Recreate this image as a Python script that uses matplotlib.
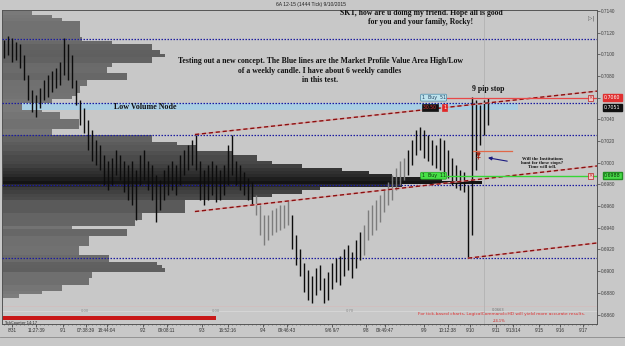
import matplotlib
matplotlib.use("Agg")
import matplotlib.pyplot as plt
import numpy as np
from matplotlib.ticker import MultipleLocator, FixedLocator, FuncFormatter

# 6A 12-15 tick chart with a weekly market profile behind it

# tick bars, one per entry (price high / low)
bar_high = [0.7113, 0.7117, 0.7115, 0.7111, 0.7109, 0.7099, 0.7081, 0.7067, 0.7062, 0.7069,
            0.7076, 0.7081, 0.7085, 0.7087, 0.7093, 0.7115, 0.7109, 0.7099, 0.7076, 0.7058,
            0.7050, 0.7039, 0.7030, 0.7021, 0.7016, 0.7007, 0.7002, 0.7004, 0.7012, 0.7007,
            0.7002, 0.6998, 0.7002, 0.6993, 0.7007, 0.7012, 0.7002, 0.6998, 0.6989, 0.6984,
            0.6993, 0.6998, 0.7002, 0.6998, 0.7007, 0.7012, 0.7016, 0.7021, 0.7026, 0.7002,
            0.6993, 0.6998, 0.7002, 0.6998, 0.6993, 0.6998, 0.7016, 0.7026, 0.7002, 0.6998,
            0.6991, 0.6986, 0.6982, 0.6970, 0.6961, 0.6952, 0.6952, 0.6956, 0.6958, 0.6961,
            0.6961, 0.6966, 0.6952, 0.6933, 0.6920, 0.6908, 0.6901, 0.6896, 0.6903, 0.6906,
            0.6894, 0.6899, 0.6908, 0.6912, 0.6914, 0.6920, 0.6924, 0.6918, 0.6929, 0.6936,
            0.6943, 0.6956, 0.6961, 0.6966, 0.6970, 0.6975, 0.6982, 0.6989, 0.6995, 0.7002,
            0.7004, 0.7012, 0.7021, 0.7030, 0.7033, 0.7030, 0.7026, 0.7021, 0.7016, 0.7023,
            0.7021, 0.7012, 0.7004, 0.6998, 0.6993, 0.6991, 0.6979, 0.7061, 0.7058, 0.7053,
            0.7058, 0.7060]
bar_low = [0.7097, 0.7099, 0.7093, 0.7095, 0.7087, 0.7076, 0.7058, 0.7047, 0.7042, 0.7050,
           0.7058, 0.7061, 0.7065, 0.7069, 0.7072, 0.7081, 0.7076, 0.7069, 0.7053, 0.7035,
           0.7027, 0.7012, 0.7002, 0.6998, 0.6993, 0.6979, 0.6975, 0.6979, 0.6989, 0.6984,
           0.6973, 0.6966, 0.6961, 0.6947, 0.6979, 0.6984, 0.6975, 0.6966, 0.6945, 0.6956,
           0.6966, 0.6970, 0.6975, 0.6970, 0.6979, 0.6989, 0.6993, 0.6998, 0.6993, 0.6966,
           0.6961, 0.6966, 0.6970, 0.6964, 0.6966, 0.6970, 0.6979, 0.6989, 0.6979, 0.6975,
           0.6970, 0.6966, 0.6961, 0.6952, 0.6933, 0.6924, 0.6929, 0.6933, 0.6936, 0.6938,
           0.6940, 0.6943, 0.6920, 0.6906, 0.6896, 0.6881, 0.6873, 0.6871, 0.6878, 0.6883,
           0.6871, 0.6873, 0.6884, 0.6890, 0.6887, 0.6896, 0.6901, 0.6894, 0.6903, 0.6910,
           0.6915, 0.6929, 0.6933, 0.6938, 0.6945, 0.6955, 0.6961, 0.6966, 0.6975, 0.6979,
           0.6984, 0.6989, 0.6998, 0.7007, 0.7012, 0.7004, 0.7002, 0.6998, 0.6995, 0.6993,
           0.6991, 0.6986, 0.6979, 0.6977, 0.6975, 0.6973, 0.6912, 0.6933, 0.6993, 0.7016,
           0.7026, 0.7035]
gray_ranges = [(63, 72), (90, 101)]   # sessions painted gray

# weekly market profile, volume per 3-pip row from 0.7138 down
profile_top = 0.7138
profile_step = 0.0003
profile_vol = [30, 50, 60, 78, 78, 78, 78, 78, 80, 110,
               150, 150, 158, 163, 150, 150, 110, 105, 105, 125,
               125, 85, 85, 78, 78, 75, 70, 50, 40, 40,
               40, 58, 58, 77, 77, 77, 50, 50, 150, 150,
               175, 195, 195, 230, 255, 255, 270, 300, 340, 367,
               390, 440, 480, 400, 318, 300, 270, 250, 183, 183,
               183, 183, 140, 140, 133, 133, 70, 125, 125, 87,
               87, 87, 77, 77, 77, 107, 107, 155, 160, 163,
               90, 90, 87, 87, 60, 60, 40, 17]

# value area high/low lines
va_levels = [0.7114, 0.7055, 0.7026, 0.6979, 0.6912]
lvn_low, lvn_high = 0.7049, 0.7055

# channel trend lines (bar, price) pairs
trend_upper = [(47.75, 0.7026), (148.25, 0.7066)]
trend_lower = [(47.75, 0.6955), (148.25, 0.6997)]
trend_third = [(116.0, 0.6912), (148.25, 0.6926)]

# orders
sell_stop_price = 0.7060
entry_price = 0.7051
buy_stop_price = 0.6988
stop_hunt_price = 0.7011

tick_pos = [2, 8, 14.75, 20.5, 25.75, 34.75, 40.75, 49.5, 56, 64.75, 70.75, 82,
            90.5, 95.25, 105, 111, 116.5, 123, 127.25, 133.75, 139, 144.75]
tick_lbl = ["8/31", "11:27:39", "9/1", "07:38:39", "18:44:04", "9/2", "09:08:11", "9/3",
            "16:52:16", "9/4", "09:46:43", "9/6 9/7", "9/8", "09:49:47", "9/9", "10:12:38",
            "9/10", "9/11", "9/13/14", "9/15", "9/16", "9/17"]
timer_fraction = 0.36

W, H = 625, 346
BG = "#c8c8c8"
fig = plt.figure(figsize=(W / 100, H / 100), dpi=100, facecolor=BG)

def px_box(x0, y0, x1, y1):
    return [x0 / W, 1 - y1 / H, (x1 - x0) / W, (y1 - y0) / H]

ax = fig.add_axes(px_box(2, 10, 597, 324))
ax.set_xlim(-0.5, 148.25)
ax.set_ylim(0.68513, 0.71408)

# profile on a twin axis so its length scale is independent
axp = ax.twiny()
axp.set_xlim(0, 595)
axp.set_zorder(0)
ax.set_zorder(1)
ax.patch.set_visible(False)
axp.axis("off")
n = len(profile_vol)
prof_price = profile_top - profile_step * np.arange(n)
vmax = max(profile_vol)
shades = [str(0.5 - 0.42 * (v / vmax) ** 1.1) for v in profile_vol]
axp.barh(prof_price, profile_vol, height=profile_step, left=0, color=shades, linewidth=0)

# value area lines and low volume node band
ax.fill_between([4.5, 128.5], lvn_low, lvn_high, color="#a9cfe4", zorder=2, linewidth=0)
for lv in va_levels:
    ax.axhline(lv, color="#1c1ca0", lw=0.9, ls=(0, (1.2, 1.2)), zorder=3)

# current bar cursor
ax.axvline(120, color="#b2b2b2", lw=0.6, zorder=2)

# tick bars
xb = np.arange(len(bar_high))
cols = []
for i in xb:
    c = "#0c0c0c"
    for a, b in gray_ranges:
        if a <= i < b:
            c = "#7c7c7c"
    cols.append(c)
ax.vlines(xb, bar_low, bar_high, colors=cols, lw=1.0, zorder=4)

# trend lines
for seg in [trend_upper, trend_lower, trend_third]:
    xs = [p[0] for p in seg]
    ys = [p[1] for p in seg]
    ax.plot(xs, ys, color="#dba2a2", lw=1.0, zorder=5)
    ax.plot(xs, ys, color="#8a1010", lw=1.0, ls=(0, (3, 2)), zorder=5)

# order lines
ax.plot([110.75, 148.25], [sell_stop_price] * 2, color="#e84848", lw=0.9, zorder=5)
ax.plot([110.75, 148.25], [buy_stop_price] * 2, color="#36d636", lw=1.0, zorder=5)
ax.plot([117.25, 127], [stop_hunt_price] * 2, color="#e06848", lw=0.9, zorder=5)
ax.plot([118.5], [stop_hunt_price - 0.0003], marker="v", ms=2.2, color="#a02818", zorder=6)
ax.plot([118.5], [stop_hunt_price - 0.0006], marker="+", ms=2.2, mew=0.6, color="#a02818", zorder=6)

ax.text(107.4, sell_stop_price, "1  Buy  51", fontsize=3.4, ha="center", va="center", color="#204060",
        bbox=dict(boxstyle="round,pad=0.2", fc="#bfe4ee", ec="#4a8aa8", lw=0.5), zorder=7)
ax.text(106.5, entry_price, "30.50 ", fontsize=3.3, ha="center", va="center", color="#d83030",
        bbox=dict(boxstyle="square,pad=0.2", fc="#141414", ec="#141414", lw=0.5), zorder=7)
ax.text(110.2, entry_price, "1", fontsize=3.3, ha="center", va="center", color="white",
        bbox=dict(boxstyle="square,pad=0.2", fc="#e02828", ec="#e02828", lw=0.5), zorder=7)
ax.text(107.4, buy_stop_price, "1  Buy  11", fontsize=3.4, ha="center", va="center", color="#103010",
        bbox=dict(boxstyle="round,pad=0.2", fc="#46e046", ec="#20a020", lw=0.5), zorder=7)
for p in [sell_stop_price, buy_stop_price]:
    ax.text(146.6, p, "×", fontsize=3.6, ha="center", va="center", color="#c02020",
            bbox=dict(boxstyle="square,pad=0.1", fc="#f0c8c8", ec="#c02020", lw=0.5), zorder=7)

# price boxes on the right scale
tr = ax.get_yaxis_transform()
ax.text(1.012, sell_stop_price, "0.7060", transform=tr, fontsize=3.4, color="white", va="center",
        ha="left", bbox=dict(boxstyle="square,pad=0.25", fc="#e03030", ec="#e03030"), clip_on=False, zorder=8)
ax.text(1.012, entry_price, "0.7051", transform=tr, fontsize=3.4, color="white", va="center",
        ha="left", bbox=dict(boxstyle="square,pad=0.25", fc="#101010", ec="#101010"), clip_on=False, zorder=8)
ax.text(1.012, buy_stop_price, "0.6988", transform=tr, fontsize=3.4, color="#0a300a", va="center",
        ha="left", bbox=dict(boxstyle="square,pad=0.25", fc="#48dc48", ec="#209020"), clip_on=False, zorder=8)

# notes
serif = dict(family="Liberation Serif", weight="bold", color="#111111")
ax.text(104.25, 0.7134, "SKT, how are u doing my friend. Hope all is good\nfor you and your family, Rocky!",
        ha="center", va="center", fontsize=5.6, linespacing=1.15, clip_on=True, zorder=6, **serif)
ax.text(79, 0.7085, "Testing out a new concept. The Blue lines are the Market Profile Value Area High/Low\n"
        "of a weekly candle. I have about 6 weekly candles\nin this test.",
        ha="center", va="center", fontsize=5.6, linespacing=1.2, zorder=6, **serif)
ax.text(35.25, 0.7051, "Low Volume Node", ha="center", va="center", fontsize=5.8, zorder=6, **serif)
ax.text(121, 0.7068, "9 pip stop", ha="center", va="center", fontsize=5.6, zorder=6, **serif)
ax.text(134.5, 0.7000, "Will the Institutions\nhunt for these stops?\nTime will tell.", ha="center",
        va="center", fontsize=3.4, linespacing=1.05, zorder=6, **serif)
ax.annotate("", xy=(120.3, 0.7005), xytext=(126.5, 0.7001),
            arrowprops=dict(arrowstyle="-|>", color="#1a1a80", lw=0.8, mutation_scale=5), zorder=6)
ax.text(147.5, 0.7133, "▷|", fontsize=4, ha="right", va="center", color="#505050")
ax.text(0.98, 0.025, "For tick-based charts, LogicalCommand=HD will yield more accurate results.",
        transform=ax.transAxes, fontsize=3.2, color="#e03030", ha="right", va="bottom", zorder=6)

# axes styling
ax.yaxis.tick_right()
yt = np.round(np.arange(0.6860, 0.7141, 0.002), 4)
ax.yaxis.set_major_locator(FixedLocator(yt))
ax.yaxis.set_major_formatter(FuncFormatter(lambda v, p: "" if abs(v - 0.7060) < 1e-6 else f"{v:.4f}"))
ax.tick_params(axis="y", direction="out", length=2, width=0.5, pad=0.8, labelsize=3.4,
               colors="#404040", labelfontfamily="Liberation Sans")
ax.set_xticks(tick_pos)
ax.set_xticklabels(tick_lbl)
ax.xaxis.set_minor_locator(MultipleLocator(1))
ax.tick_params(axis="x", which="major", direction="out", length=1.8, width=0.5, pad=0.8,
               labelsize=3.3, colors="#303030", labelfontfamily="Liberation Sans")
ax.tick_params(axis="x", which="minor", direction="out", length=1.0, width=0.4, colors="#404040")
for s in ["left", "right", "bottom", "top"]:
    ax.spines[s].set_color("#555555")
    ax.spines[s].set_linewidth(0.7)

# tick timer indicator strip at the bottom
axi = fig.add_axes(px_box(2, 304, 597, 323))
axi.set_xlim(0, 1)
axi.set_ylim(0, 1)
axi.axis("off")
axi.axhline(0.9, color="#d4bcbc", lw=0.5)
axi.axhline(0.62, color="#d8d8d8", lw=0.6)
axi.barh(0.26, timer_fraction, height=0.22, left=0, color="#c81818")
axi.text(0.14, 0.62, "0.00", fontsize=2.6, color="#8a8a8a", ha="center", va="center")
axi.text(0.36, 0.62, "0.00", fontsize=2.6, color="#8a8a8a", ha="center", va="center")
axi.text(0.584, 0.62, "0.70", fontsize=2.6, color="#8a8a8a", ha="center", va="center")
axi.text(0.834, 0.68, "0.0663", fontsize=2.6, color="#707070", ha="center", va="center")
axi.text(0.836, 0.12, "-24.1%", fontsize=2.6, color="#d02020", ha="center", va="center")
axi.text(0.003, 0.02, "TickCounter 14:17", fontsize=2.6, color="#202020", ha="left", va="center")

# title bar
fig.text(311 / W, 1 - 4.5 / H, "6A 12-15 (1444 Tick) 9/10/2015", fontsize=3.6, color="#202020",
         ha="center", va="center", family="Liberation Sans")
fig.add_artist(plt.Line2D([0, 1], [1 - 337 / H] * 2, color="#8a8a8a", lw=0.6))

fig.savefig("out.png", dpi=100, facecolor=BG)
